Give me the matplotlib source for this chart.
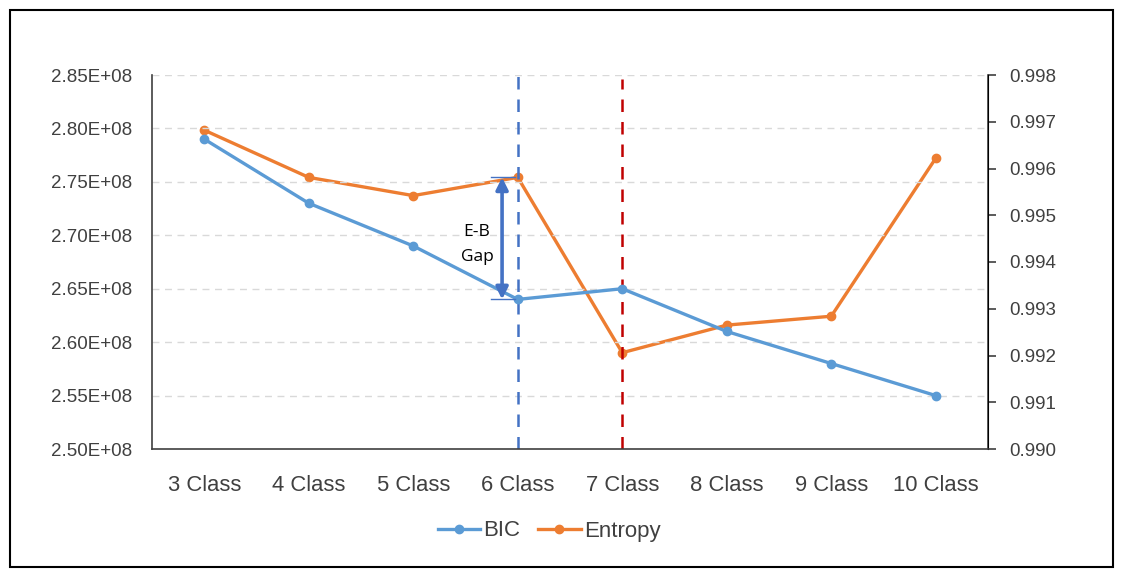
import matplotlib
matplotlib.use("Agg")
import matplotlib.pyplot as plt
from matplotlib.patches import Rectangle
from matplotlib.lines import Line2D

plt.rcParams['font.family'] = ['Liberation Sans', 'DejaVu Sans']

categories = ["3 Class", "4 Class", "5 Class", "6 Class", "7 Class", "8 Class", "9 Class", "10 Class"]
bic = [2.790e8, 2.730e8, 2.690e8, 2.640e8, 2.650e8, 2.610e8, 2.580e8, 2.550e8]
entropy = [0.99682, 0.99581, 0.99542, 0.99581, 0.99206, 0.99265, 0.99284, 0.99622]
left_ticks = [2.50e8, 2.55e8, 2.60e8, 2.65e8, 2.70e8, 2.75e8, 2.80e8, 2.85e8]
right_ticks = [0.990, 0.991, 0.992, 0.993, 0.994, 0.995, 0.996, 0.997, 0.998]

BLUE = "#5B9BD5"
ORANGE = "#ED7D31"

fig = plt.figure(figsize=(11.21, 5.74), dpi=100)
ax = fig.add_axes([152/1121, 1-449/574, (988-152)/1121, (449-75)/574])
ax2 = ax.twinx()

x = list(range(len(categories)))
ax.set_xlim(-0.5, len(categories) - 0.5)
ax.set_ylim(left_ticks[0], left_ticks[-1])
ax2.set_ylim(right_ticks[0], right_ticks[-1])

ax.set_yticks(left_ticks)
ax.set_yticklabels([f"{v:.2E}" for v in left_ticks])
ax2.set_yticks(right_ticks)
ax2.set_yticklabels([f"{v:.3f}" for v in right_ticks])
ax.set_xticks(x)
ax.set_xticklabels(categories)

for t in left_ticks[1:]:
    ax.axhline(t, color="#D9D9D9", lw=1.0, ls=(0, (5, 4)), zorder=0)

ax.plot(x, bic, color=BLUE, lw=2.4, marker="o", ms=6, zorder=3)
ax2.plot(x, entropy, color=ORANGE, lw=2.4, marker="o", ms=6, zorder=3)

# vertical dashed markers
ax.axvline(3, color="#4472C4", lw=1.8, ls=(0, (5, 4)), zorder=2)
ax.axvline(4, color="#C00000", lw=1.8, ls=(0, (5, 4)), ymax=0.99, zorder=2)

# E-B gap arrow
lo, hi = left_ticks[0], left_ticks[-1]
elo, ehi = right_ticks[0], right_ticks[-1]
top = lo + (entropy[3] - elo) / (ehi - elo) * (hi - lo)
bot = bic[3]
ax.annotate("", xy=(2.85, top), xytext=(2.85, bot),
            arrowprops=dict(arrowstyle="<|-|>", color="#4472C4", lw=2.6,
                            mutation_scale=18, shrinkA=0, shrinkB=0), zorder=4)
ax.plot([2.74, 2.97], [top, top], color="#4472C4", lw=1.0, zorder=4)
ax.plot([2.74, 2.97], [bot, bot], color="#4472C4", lw=1.0, zorder=4)
ax.text(2.61, bot + 0.45 * (top - bot), "E-B\nGap", ha="center", va="center",
        fontsize=12.5, family=["Open Sans", "DejaVu Sans"], linespacing=1.7, zorder=4)

for a in (ax, ax2):
    a.spines["top"].set_visible(False)
ax.spines["left"].set_color("#404040")
ax.spines["bottom"].set_color("#404040")
ax2.spines["right"].set_color("#404040")
ax2.spines["left"].set_visible(False)
ax2.spines["bottom"].set_visible(False)
for s in ("left", "bottom"):
    ax.spines[s].set_linewidth(1.2)
ax2.spines["right"].set_linewidth(1.2)

ax.tick_params(axis="y", length=0, labelsize=13.5, colors="#404040", pad=14)
ax.tick_params(axis="x", length=0, labelsize=15.8, colors="#404040", pad=19)
ax2.tick_params(axis="y", length=6, width=1.2, direction="out", labelsize=13.5,
                colors="#404040", pad=9)
ax.set_zorder(ax2.get_zorder() + 1)
ax.patch.set_visible(False)

handles = [Line2D([], [], color=BLUE, lw=2.4, marker="o", ms=6),
           Line2D([], [], color=ORANGE, lw=2.4, marker="o", ms=6)]
fig.legend(handles, ["BIC", "Entropy"], loc="center", bbox_to_anchor=(0.490, 1 - 531/574),
           ncol=2, frameon=False, fontsize=16, handlelength=1.9, handletextpad=0.15,
           columnspacing=0.8, labelcolor="#404040")

fig.patches.append(Rectangle((9.5/1121, 1 - 567/574), (1113 - 9.5)/1121, (567 - 9.5)/574,
                             transform=fig.transFigure, fill=False, ec="black", lw=1.5))

fig.savefig("out.png", dpi=100)
